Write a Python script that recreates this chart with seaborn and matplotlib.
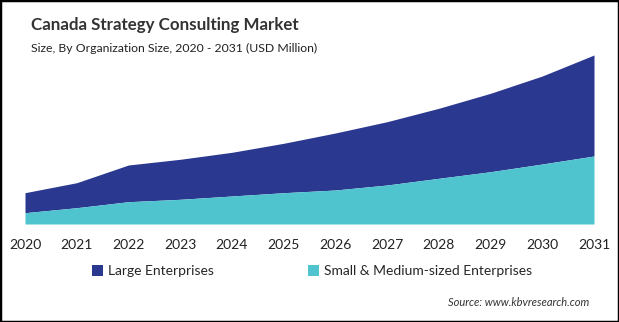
import matplotlib
matplotlib.use("Agg")
import matplotlib.pyplot as plt
import seaborn as sns
import pandas as pd
from matplotlib.patches import Patch, Rectangle

years = [2020, 2021, 2022, 2023, 2024, 2025, 2026, 2027, 2028, 2029, 2030, 2031]
large = [20.0, 25.0, 36.7, 40.0, 43.7, 49.4, 57.0, 63.3, 70.0, 78.4, 88.0, 101.0]
sme = [11.3, 16.3, 22.3, 24.7, 28.0, 31.3, 34.0, 39.0, 45.7, 52.3, 60.0, 68.0]
series_names = ["Large Enterprises", "Small & Medium-sized Enterprises"]
colors = ["#2B388F", "#4FC4CF"]

df = pd.DataFrame({"year": years, "sme": sme,
                   "total": [a + b for a, b in zip(large, sme)]})

sns.set_theme(style="white")
plt.rcParams["font.family"] = ["Lato", "DejaVu Sans"]

W, H = 619, 322
fig = plt.figure(figsize=(W / 100, H / 100), dpi=100)
fig.patch.set_facecolor("white")

left, right = 25, 594
bottom_px, top_px = 224, 40
ax = fig.add_axes([left / W, (H - bottom_px) / H, (right - left) / W, (bottom_px - top_px) / H])

sns.lineplot(data=df, x="year", y="total", ax=ax, color=colors[0], linewidth=0)
sns.lineplot(data=df, x="year", y="sme", ax=ax, color=colors[1], linewidth=0)
ax.fill_between(df["year"], df["sme"], df["total"], color=colors[0], linewidth=0)
ax.fill_between(df["year"], 0, df["sme"], color=colors[1], linewidth=0)

ax.set_xlim(years[0], years[-1])
ax.set_ylim(0, bottom_px - top_px)
ax.set_xticks(years)
ax.set_xticklabels([str(y) for y in years], fontsize=10, color="#222222")
ax.tick_params(axis="x", length=0, pad=11)
ax.set_yticks([])
ax.set_xlabel("")
ax.set_ylabel("")
for s in ax.spines.values():
    s.set_visible(False)
ax.patch.set_alpha(0)

fig.text(31 / W, 1 - 30 / H, "Canada Strategy Consulting Market", fontsize=12.2,
         fontweight="bold", color="#333333", ha="left", va="baseline")
fig.text(31 / W, 1 - 52 / H, "Size, By Organization Size, 2020 - 2031 (USD Million)",
         fontsize=8.8, color="#222222", ha="left", va="baseline")

handles = [Patch(facecolor=c, edgecolor="none") for c in colors]
fig.legend(handles, series_names, loc="center left", bbox_to_anchor=(92 / W, 1 - 271 / H),
           ncol=2, frameon=False, fontsize=10, handlelength=0.8, handleheight=0.8,
           handletextpad=0.35, columnspacing=6.75, borderaxespad=0, borderpad=0)

fig.text(589 / W, 1 - 302 / H, "Source: www.kbvresearch.com", fontsize=8,
         style="italic", color="#333333", ha="right", va="center")

fig.add_artist(Rectangle((0, 0), 1, 1, transform=fig.transFigure, fill=False,
                         edgecolor="black", linewidth=2.5))

fig.savefig("out.png", dpi=100)
